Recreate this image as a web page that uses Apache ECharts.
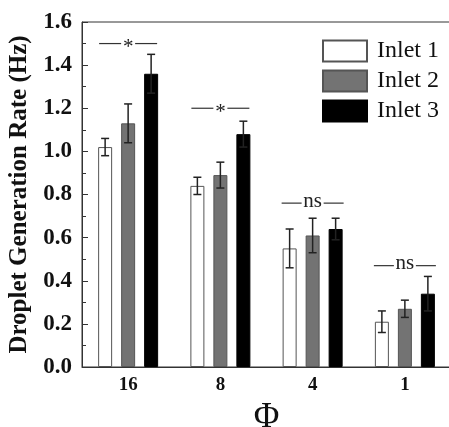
<!DOCTYPE html>
<html>
<head>
<meta charset="utf-8">
<script src="https://cdn.jsdelivr.net/npm/echarts@6/dist/echarts.min.js"></script>
<style>
  html, body { margin: 0; padding: 0; background: #fff; }
  #chart { width: 449px; height: 427px; }
</style>
</head>
<body>
<div id="chart"></div>
<script>
// data
const categories = ['16', '8', '4', '1'];
const seriesNames = ['Inlet 1', 'Inlet 2', 'Inlet 3'];
const inlet1 = [1.02, 0.84, 0.55, 0.21];
const inlet2 = [1.13, 0.89, 0.61, 0.27];
const inlet3 = [1.36, 1.08, 0.64, 0.34];
// error (± sd)
const err1 = [0.04, 0.04, 0.09, 0.05];
const err2 = [0.09, 0.06, 0.08, 0.04];
const err3 = [0.09, 0.06, 0.05, 0.08];
// significance marks above each group
const sigLabels = ['*', '*', 'ns', 'ns'];
const sigLevels = [1.5, 1.2, 0.76, 0.47];

const fills = ['#ffffff', '#737373', '#000000'];
const values = [inlet1, inlet2, inlet3];
const errors = [err1, err2, err3];
const BAR_W = 14;
const BAR_GAP = 9;
const serif = 'Liberation Serif';

const chart = echarts.init(document.getElementById('chart'));

const barSeries = values.map((vals, i) => ({
  name: seriesNames[i],
  type: 'bar',
  data: vals,
  barWidth: BAR_W,
  barGap: (BAR_GAP / BAR_W * 100) + '%',
  itemStyle: {
    color: fills[i],
    borderColor: i === 2 ? '#000' : '#555',
    borderWidth: 1
  },
  z: 2
}));

// error bars, drawn at the same offset as each bar
const errSeries = values.map((vals, i) => ({
  type: 'custom',
  name: seriesNames[i] + ' err',
  data: vals.map((v, k) => [k, v - errors[i][k], v + errors[i][k]]),
  z: 3,
  silent: true,
  renderItem(params, api) {
    const off = (i - 1) * (BAR_W + BAR_GAP);
    const lo = api.coord([api.value(0), api.value(1)]);
    const hi = api.coord([api.value(0), api.value(2)]);
    const x = lo[0] + off;
    const cap = 4;
    const style = { stroke: '#222', lineWidth: 1.5 };
    return {
      type: 'group',
      children: [
        { type: 'line', shape: { x1: x, y1: lo[1], x2: x, y2: hi[1] }, style },
        { type: 'line', shape: { x1: x - cap, y1: lo[1], x2: x + cap, y2: lo[1] }, style },
        { type: 'line', shape: { x1: x - cap, y1: hi[1], x2: x + cap, y2: hi[1] }, style }
      ]
    };
  }
}));

const sigSeries = {
  type: 'custom',
  name: 'sig',
  data: sigLevels.map((v, k) => [k, v, sigLabels[k]]),
  z: 4,
  silent: true,
  renderItem(params, api) {
    const p = api.coord([api.value(0), api.value(1)]);
    const label = sigLabels[params.dataIndex];
    const ns = label === 'ns';
    const half = ns ? 31 : 29;
    const gap = ns ? 11 : 7;
    const style = { stroke: '#333', lineWidth: 1.2 };
    return {
      type: 'group',
      children: [
        { type: 'line', shape: { x1: p[0] - half, y1: p[1], x2: p[0] - gap, y2: p[1] }, style },
        { type: 'line', shape: { x1: p[0] + gap, y1: p[1], x2: p[0] + half, y2: p[1] }, style },
        {
          type: 'text',
          x: p[0], y: ns ? p[1] - 2 : p[1] + 4,
          style: {
            text: label, fill: '#222',
            font: '21px "' + serif + '"',
            align: 'center', verticalAlign: 'middle'
          }
        }
      ]
    };
  }
};

chart.setOption({
  animation: false,
  backgroundColor: '#fff',
  grid: {
    left: 82, top: 22, right: -2, bottom: 60,
    outerBoundsMode: 'none',
    show: true, borderColor: '#333', borderWidth: 1
  },
  legend: {
    data: seriesNames,
    orient: 'vertical',
    left: 317, top: 34,
    itemWidth: 44, itemHeight: 21, itemGap: 6,
    icon: 'rect',
    textStyle: { fontFamily: serif, fontSize: 24, color: '#111', padding: [0, 0, 0, 5] }
  },
  xAxis: {
    type: 'category',
    data: categories,
    name: 'Φ',
    nameLocation: 'middle',
    nameGap: 33,
    nameTextStyle: { fontFamily: serif, fontSize: 35, color: '#111' },
    axisLine: { lineStyle: { color: '#333', width: 1 } },
    axisTick: { show: false },
    axisLabel: { fontFamily: serif, fontWeight: 'bold', fontSize: 19, color: '#111', margin: 9 }
  },
  yAxis: {
    type: 'value',
    min: 0, max: 1.6, interval: 0.2,
    name: 'Droplet Generation Rate (Hz)',
    nameLocation: 'middle',
    nameGap: 42,
    nameTextStyle: { fontFamily: serif, fontWeight: 'bold', fontSize: 25, color: '#111' },
    axisLine: { show: true, lineStyle: { color: '#333', width: 1 } },
    axisTick: { show: true, inside: true, length: 6, lineStyle: { color: '#333' } },
    minorTick: { show: true, splitNumber: 2, length: 4, lineStyle: { color: '#333' } },
    splitLine: { show: false },
    axisLabel: {
      fontFamily: serif, fontWeight: 'bold', fontSize: 23, color: '#111', margin: 10,
      formatter: v => v.toFixed(1)
    }
  },
  series: [...barSeries, ...errSeries, sigSeries]
});
</script>
</body>
</html>
